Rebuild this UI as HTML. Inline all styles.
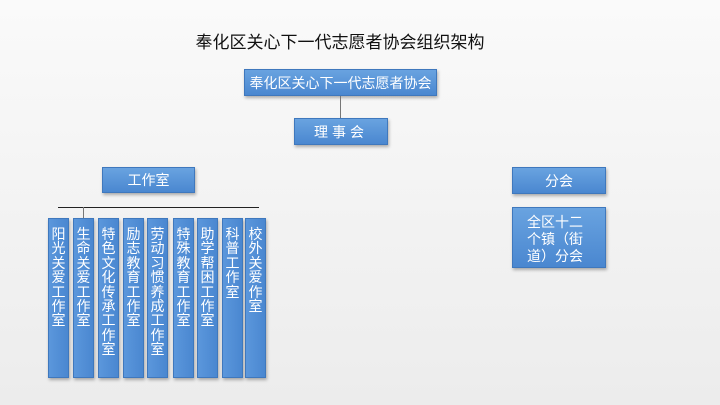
<!DOCTYPE html>
<html><head><meta charset="utf-8"><style>
body{margin:0;width:720px;height:405px;background:linear-gradient(#fafafa,#ececec);position:relative;overflow:hidden;font-family:"Liberation Sans","Noto Sans CJK SC",sans-serif;}
.b{position:absolute;background:linear-gradient(#69a3e0,#4a87d0);border:1px solid #3f78bd;box-shadow:1px 2px 3px rgba(0,0,0,.3);color:#fff;text-align:center;box-sizing:border-box;}
.c{position:absolute;top:218px;height:160px;width:21px;background:linear-gradient(90deg,#5b97dc,#4a87d0);border:1px solid #3f78bd;box-shadow:1px 2px 3px rgba(0,0,0,.3);color:#fff;font-size:14px;line-height:14.4px;text-align:center;box-sizing:border-box;padding-top:8px;}
.l{position:absolute;background:#777;}
</style></head><body>
<div style="position:absolute;left:0;width:680px;top:28px;text-align:center;font-size:17px;color:#111;">奉化区关心下一代志愿者协会组织架构</div>
<div class="b" style="left:244px;top:69px;width:193px;height:27px;font-size:14px;line-height:26px;">奉化区关心下一代志愿者协会</div>
<div class="l" style="left:340px;top:96px;width:1px;height:22px;"></div>
<div class="b" style="left:294px;top:118px;width:94px;height:27px;font-size:14px;line-height:26px;letter-spacing:4px;">理事会</div>
<div class="b" style="left:102px;top:167px;width:93px;height:26px;font-size:14px;line-height:25px;">工作室</div>
<div class="b" style="left:512px;top:167px;width:94px;height:27px;font-size:14px;line-height:26px;">分会</div>
<div class="b" style="left:512px;top:207px;width:94px;height:61px;font-size:14px;line-height:17px;padding:6px 14px 0;text-align:left;">全区十二个镇（街道）分会</div>
<div class="l" style="left:58px;top:207px;width:201px;height:1px;background:#222;"></div>
<div class="l" style="left:83px;top:207px;width:1px;height:11px;"></div>
<div class="c" style="left:48px">阳光关爱工作室</div>
<div class="c" style="left:73px">生命关爱工作室</div>
<div class="c" style="left:98px">特色文化传承工作室</div>
<div class="c" style="left:123px">励志教育工作室</div>
<div class="c" style="left:147px">劳动习惯养成工作室</div>
<div class="c" style="left:173px">特殊教育工作室</div>
<div class="c" style="left:197px">助学帮困工作室</div>
<div class="c" style="left:222px">科普工作室</div>
<div class="c" style="left:245px">校外关爱作室</div>
</body></html>
